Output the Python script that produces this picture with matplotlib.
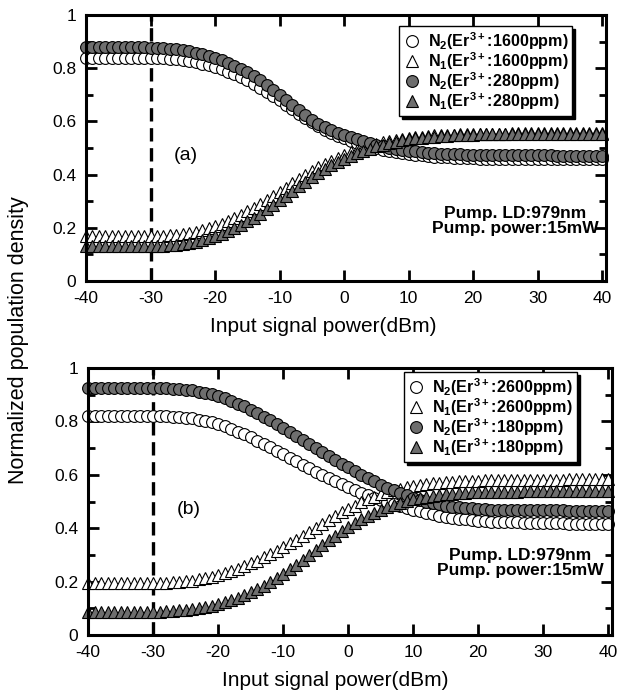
import numpy as np
import matplotlib.pyplot as plt
from matplotlib.ticker import MultipleLocator

plt.rcParams['font.family'] = ['Liberation Sans', 'DejaVu Sans']
plt.rcParams['axes.unicode_minus'] = False
plt.rcParams['mathtext.fontset'] = 'custom'
plt.rcParams['mathtext.rm'] = 'Liberation Sans'
plt.rcParams['mathtext.bf'] = 'Liberation Sans:bold'
plt.rcParams['mathtext.default'] = 'bf'

# input signal power grid (dBm), one point per dB
power_dbm = np.arange(-40, 41)

# ---- panel (a): 1600 ppm vs 280 ppm ----
a_n2_1600 = ([0.840] * 10 +
             [0.839, 0.838, 0.837, 0.835, 0.833, 0.830, 0.826, 0.822, 0.817, 0.811,
              0.804, 0.796, 0.787, 0.777, 0.766, 0.754, 0.741, 0.727, 0.712, 0.696,
              0.679, 0.662, 0.645, 0.628, 0.611, 0.596, 0.582, 0.569, 0.557, 0.546,
              0.536, 0.527, 0.519, 0.512, 0.505, 0.499, 0.494, 0.489, 0.485, 0.481,
              0.478, 0.475, 0.472, 0.470, 0.468, 0.466, 0.465, 0.464, 0.463, 0.462,
              0.461] +
             [0.460] * 5 + [0.459] * 7 + [0.458] * 8)
a_n1_1600 = ([0.168] * 10 +
             [0.168, 0.169, 0.170, 0.172, 0.174, 0.177, 0.181, 0.186, 0.192, 0.199,
              0.207, 0.216, 0.226, 0.237, 0.249, 0.262, 0.275, 0.289, 0.304, 0.319,
              0.335, 0.351, 0.367, 0.383, 0.398, 0.413, 0.427, 0.440, 0.452, 0.464,
              0.474, 0.484, 0.493, 0.501, 0.508, 0.515, 0.521, 0.526, 0.531, 0.535,
              0.538, 0.541, 0.543, 0.545, 0.547, 0.548, 0.549, 0.550, 0.551, 0.552,
              0.553] +
             [0.554] * 5 + [0.555] * 7 + [0.556] * 8)
a_n2_280 = ([0.878] * 10 +
            [0.877, 0.876, 0.875, 0.873, 0.871, 0.868, 0.864, 0.859, 0.853, 0.847,
             0.840, 0.831, 0.821, 0.810, 0.798, 0.785, 0.770, 0.754, 0.737, 0.718,
             0.698, 0.679, 0.660, 0.641, 0.623, 0.607, 0.592, 0.579, 0.567, 0.557,
             0.548, 0.540, 0.532, 0.525, 0.518, 0.512, 0.506, 0.501, 0.497, 0.493,
             0.490, 0.487, 0.485, 0.483, 0.481, 0.479, 0.478, 0.477, 0.476, 0.475,
             0.474] +
            [0.473] * 5 + [0.472] * 7 + [0.471] * 8)
a_n1_280 = ([0.130] * 10 +
            [0.130, 0.131, 0.132, 0.134, 0.136, 0.139, 0.143, 0.148, 0.154, 0.161,
             0.169, 0.178, 0.188, 0.199, 0.211, 0.224, 0.238, 0.253, 0.269, 0.286,
             0.303, 0.320, 0.338, 0.356, 0.373, 0.390, 0.406, 0.421, 0.435, 0.448,
             0.460, 0.471, 0.481, 0.490, 0.498, 0.506, 0.513, 0.519, 0.524, 0.529,
             0.533, 0.536, 0.539, 0.541, 0.543, 0.545, 0.546, 0.547, 0.548, 0.549,
             0.550] +
            [0.551] * 5 + [0.552] * 7 + [0.553] * 8)

# ---- panel (b): 2600 ppm vs 180 ppm ----
b_n2_2600 = ([0.820] * 12 +
             [0.819, 0.818, 0.816, 0.814, 0.811, 0.807, 0.802, 0.796, 0.789, 0.781,
              0.772, 0.762, 0.751, 0.740, 0.728, 0.716, 0.703, 0.690, 0.677, 0.664,
              0.651, 0.638, 0.625, 0.612, 0.600, 0.588, 0.576, 0.565, 0.554, 0.543,
              0.533, 0.523, 0.514, 0.505, 0.497, 0.489, 0.482, 0.475, 0.469, 0.463,
              0.457, 0.452, 0.447, 0.443, 0.439, 0.436, 0.433, 0.430, 0.428, 0.426] +
             [0.424] * 5 + [0.421] * 7 + [0.417] * 7)
b_n1_2600 = ([0.195] * 12 +
             [0.196, 0.197, 0.199, 0.201, 0.204, 0.208, 0.213, 0.219, 0.226, 0.233,
              0.241, 0.249, 0.258, 0.268, 0.279, 0.291, 0.303, 0.316, 0.329, 0.343,
              0.357, 0.372, 0.387, 0.402, 0.417, 0.431, 0.445, 0.459, 0.472, 0.485,
              0.497, 0.508, 0.518, 0.527, 0.535, 0.542, 0.548, 0.553, 0.558, 0.562,
              0.565, 0.568, 0.570, 0.572, 0.574, 0.575, 0.576, 0.577, 0.578, 0.579] +
             [0.580] * 5 + [0.582] * 7 + [0.584] * 7)
b_n2_180 = ([0.925] * 12 +
            [0.924, 0.923, 0.921, 0.919, 0.916, 0.912, 0.907, 0.901, 0.894, 0.886,
             0.877, 0.867, 0.856, 0.844, 0.831, 0.818, 0.804, 0.790, 0.776, 0.762,
             0.747, 0.732, 0.717, 0.702, 0.687, 0.672, 0.657, 0.642, 0.628, 0.614,
             0.600, 0.587, 0.575, 0.563, 0.552, 0.542, 0.532, 0.523, 0.515, 0.507,
             0.500, 0.494, 0.489, 0.485, 0.481, 0.478, 0.476, 0.474, 0.472, 0.471] +
            [0.470] * 5 + [0.468] * 7 + [0.466] * 7)
b_n1_180 = ([0.088] * 12 +
            [0.089, 0.090, 0.092, 0.094, 0.097, 0.100, 0.104, 0.109, 0.115, 0.122,
             0.130, 0.139, 0.149, 0.160, 0.172, 0.185, 0.199, 0.214, 0.230, 0.247,
             0.264, 0.282, 0.300, 0.318, 0.336, 0.354, 0.371, 0.388, 0.404, 0.419,
             0.433, 0.446, 0.458, 0.469, 0.479, 0.488, 0.496, 0.503, 0.509, 0.514,
             0.518, 0.522, 0.525, 0.528, 0.530, 0.532, 0.533, 0.534, 0.535, 0.536] +
            [0.537] * 5 + [0.538] * 7 + [0.540] * 7)

labels_a = ['N$_2$(Er$^{3+}$:1600ppm)', 'N$_1$(Er$^{3+}$:1600ppm)',
            'N$_2$(Er$^{3+}$:280ppm)', 'N$_1$(Er$^{3+}$:280ppm)']
labels_b = ['N$_2$(Er$^{3+}$:2600ppm)', 'N$_1$(Er$^{3+}$:2600ppm)',
            'N$_2$(Er$^{3+}$:180ppm)', 'N$_1$(Er$^{3+}$:180ppm)']
pump_note = 'Pump. LD:979nm\nPump. power:15mW'
marker_pump_dbm = -30

gray = '#6e6e6e'
styles = [('o', 'white'), ('^', 'white'), ('o', gray), ('^', gray)]


def draw_panel(ax, series, labels, tag, legend_anchor, note_y, xlabel_x):
    for y, (mk, fc), lab in zip(series, styles, labels):
        ax.plot(power_dbm, y, ls='none', marker=mk, ms=8.5 if mk == 'o' else 9,
                mfc=fc, mec='k', mew=0.8, clip_on=False, label=lab)
    ax.axvline(marker_pump_dbm, color='k', lw=2.4, ls=(0, (4, 2)), zorder=1)

    ax.set_xlim(-40, 40.6)
    ax.set_ylim(0, 1)
    ax.xaxis.set_major_locator(MultipleLocator(10))
    ax.yaxis.set_minor_locator(MultipleLocator(0.1))
    ax.set_yticks([0, 0.2, 0.4, 0.6, 0.8, 1.0])
    ax.set_yticklabels(['0', '0.2', '0.4', '0.6', '0.8', '1'])
    ax.tick_params(which='both', direction='in', top=True, right=True,
                   labelsize=12.5, pad=7)
    ax.tick_params(which='major', length=8, width=2)
    ax.tick_params(which='minor', length=5, width=2)
    for s in ax.spines.values():
        s.set_linewidth(2.2)
    ax.set_xlabel('Input signal power(dBm)', fontsize=15)
    ax.xaxis.set_label_coords(xlabel_x, -0.135)

    ax.text(-24.5, 0.47, tag, fontsize=14, ha='center', va='center')
    ax.text(26.5, note_y, pump_note, fontsize=12.5, fontweight='bold',
            ha='center', va='center', linespacing=1.05)

    leg = ax.legend(loc='upper right', bbox_to_anchor=legend_anchor,
                    borderaxespad=0, fancybox=False, edgecolor='k',
                    shadow={'color': 'k', 'alpha': 1}, framealpha=1,
                    handlelength=1.0, handletextpad=0.5, labelspacing=-0.1,
                    borderpad=0.25, prop={'weight': 'bold', 'size': 11.6})
    leg.get_frame().set_linewidth(1.0)


fig = plt.figure(figsize=(6.26, 6.95), dpi=100)
ax_a = fig.add_axes([0.1374, 0.5957, 0.8307, 0.3827])
ax_b = fig.add_axes([0.1406, 0.0863, 0.8371, 0.3842])

draw_panel(ax_a, [a_n2_1600, a_n1_1600, a_n2_280, a_n1_280], labels_a, '(a)',
           (0.935, 0.959), 0.225, 0.456)
draw_panel(ax_b, [b_n2_2600, b_n1_2600, b_n2_180, b_n1_180], labels_b, '(b)',
           (0.933, 0.985), 0.27, 0.471)

fig.text(0.03, 0.51, 'Normalized population density', rotation=90,
         fontsize=15.5, ha='center', va='center')

fig.savefig('out.png', dpi=100)
